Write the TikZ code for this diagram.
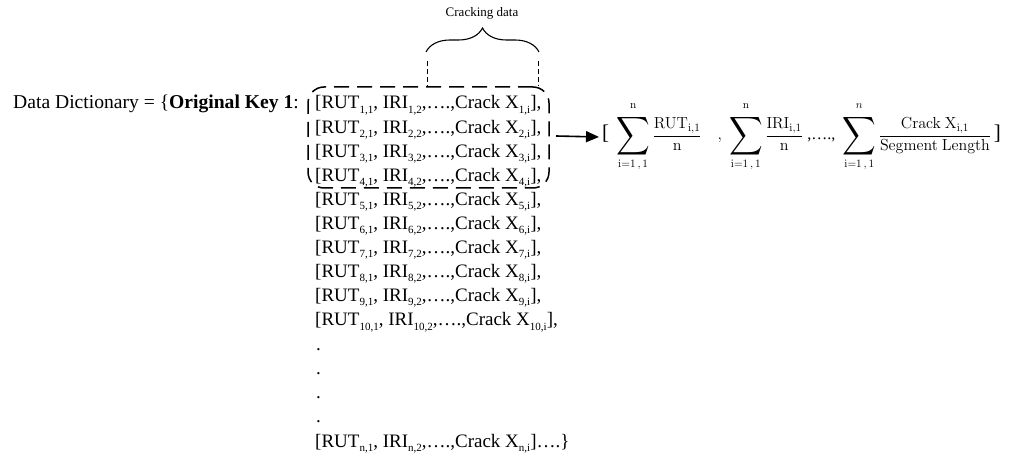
\RequirePackage{fix-cm}
\documentclass[tikz,border=0pt]{standalone}
\usepackage{amsmath}
\usepackage[no-math]{fontspec}
\setmainfont{Liberation Serif}
\usepackage{graphicx}
\usetikzlibrary{arrows.meta,decorations.pathreplacing}
\newcommand\bigsum{\mathop{\vcenter{\hbox{\scalebox{1.35}[1.55]{$\displaystyle\sum$}}}}\limits}
\newcommand\uplim[1]{\raisebox{2pt}{$\scriptstyle #1$}}
\newcommand\brk[1]{\mbox{\fontsize{21}{21}\selectfont #1}}
\newcommand\sbx[1]{\raisebox{-0.22em}{\fontsize{11}{11}\selectfont #1}}
\newcommand\rowtext[1]{[RUT\sbx{#1,1}, IRI\sbx{#1,2},….,Crack X\sbx{#1,i}]}
\tikzset{
  txt/.style={inner sep=0pt, anchor=base west, font=\fontsize{19}{23}\selectfont},
  dbox/.style={draw, line width=1.5pt, dash pattern=on 15pt off 8pt, rounded corners=16pt, inner sep=0pt},
  thindash/.style={line width=0.9pt, dash pattern=on 5pt off 3pt},
  bracestyle/.style={decorate, decoration={brace, amplitude=24pt}, line width=1.1pt},
  arr/.style={line width=1.6pt, -{Triangle[length=13pt,width=11pt]}}
}
\begin{document}
\begin{tikzpicture}[x=1pt,y=-1pt]
\useasboundingbox (0,0) rectangle (1009,454);
% left label
\node[txt, font=\fontsize{19.6}{23}\selectfont] (dd) at (13,109) {Data Dictionary = \{\textbf{Original Key 1}:};
% rows
\foreach \k in {1,...,10}{
  \node[txt] (r\k) at (315,{109+(\k-1)*24.1}) {\rowtext{\k},};
}
\foreach \k in {1,...,4}{
  \node[txt] (d\k) at (316,{350+(\k-1)*24.3}) {.};
}
\node[txt] (rn) at (315,447) {\rowtext{n}….\}};
% dashed box
\node[dbox, minimum width=241pt, minimum height=101pt] (box) at (428.5,137.5) {};
% brace and label
\coordinate (bl) at (426,52);
\coordinate (br) at (539,52);
\draw[bracestyle] (bl) -- (br);
\node[inner sep=0pt, font=\fontsize{13}{15}\selectfont] (crack) at (482,13) {Cracking data};
\coordinate (vl) at (427,61);
\coordinate (vr) at (538,61);
\draw[thindash] (vl) -- (vl |- box.north);
\draw[thindash] (vr) -- (vr |- box.north);
% formula
\node[inner sep=0pt, anchor=west, font=\fontsize{16}{19}\selectfont] (formula) at (599,137)
 {$\displaystyle \hspace{3pt}\brk{[}\;\bigsum_{\mathrm{i=1\,,\,1}}^{\uplim{\mathrm{n}}}\frac{\mathrm{RUT}_{\mathrm{i,1}}}{\mathrm{n}}\quad,\;\bigsum_{\mathrm{i=1\,,\,1}}^{\uplim{\mathrm{n}}}\frac{\mathrm{IRI}_{\mathrm{i,1}}}{\mathrm{n}}\;\mbox{,….,}\;\bigsum_{\mathrm{i=1\,,\,1}}^{\uplim{n}}\frac{\mathrm{Crack\ X}_{\mathrm{i,1}}}{\mathrm{Segment\ Length}}\,\brk{]}$};
\coordinate (a0) at (556,136);
\draw[arr] (a0) -- (formula.west);
\end{tikzpicture}
\end{document}
